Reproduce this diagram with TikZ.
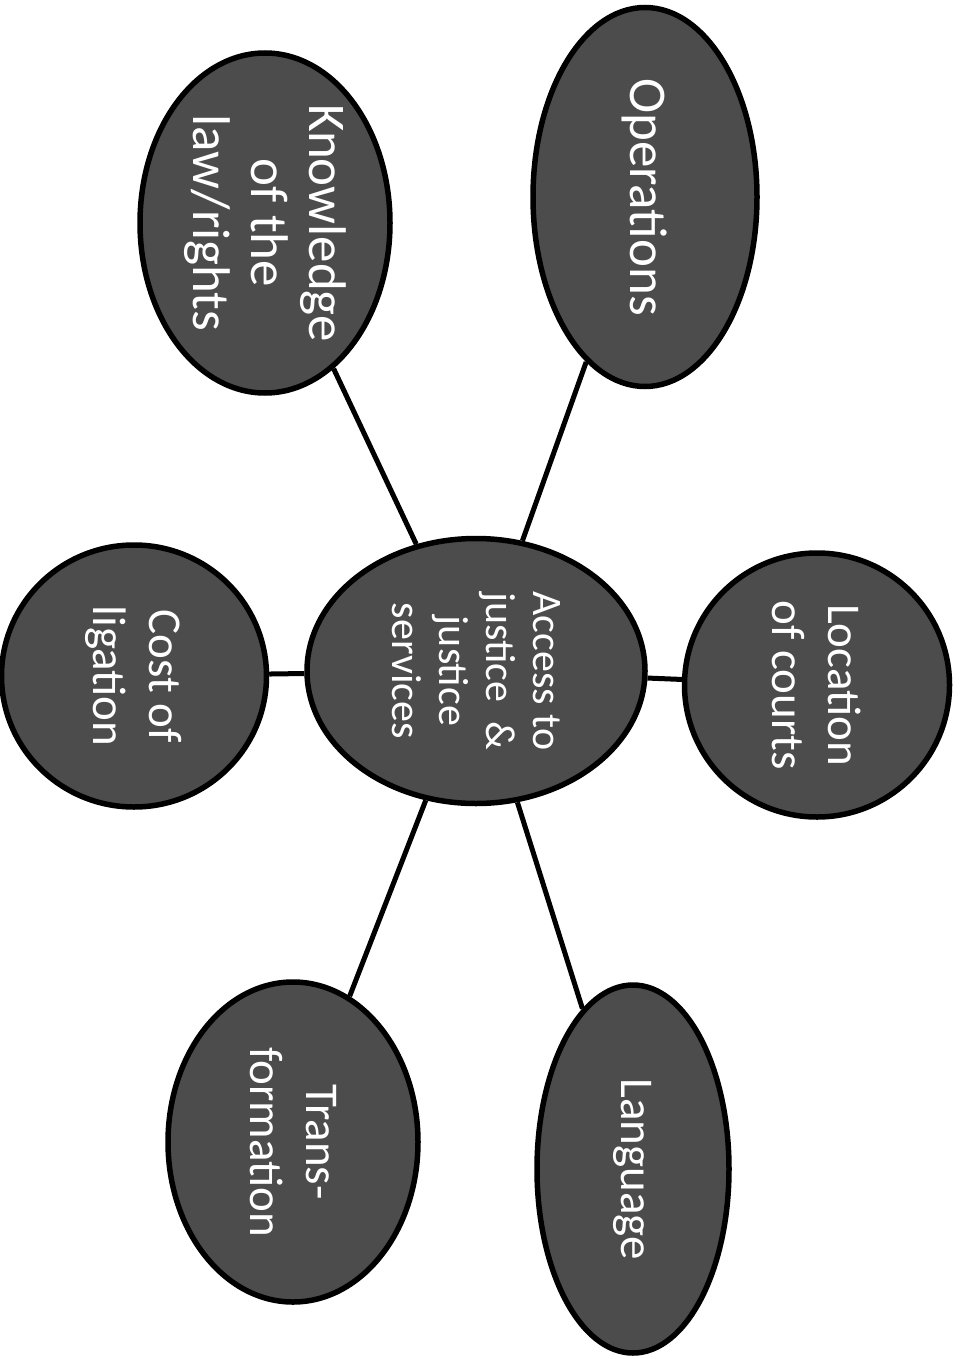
\documentclass[tikz,border=0pt]{standalone}
\usepackage{fontspec}
\setmainfont{Carlito}
\usetikzlibrary{shapes.geometric}
\begin{document}
\begin{tikzpicture}[x=1pt,y=-1pt,
  bub/.style={ellipse, draw=black, line width=5.5pt, fill=black!70, text=white,
    inner sep=0pt, align=center, rotate=-90,
    font=\fontsize{47}{56}\selectfont},
  big/.style={font=\fontsize{53}{58}\selectfont},
  conn/.style={draw=black, line width=5pt}]
\useasboundingbox (0,0) rectangle (963,1359);
\node[bub, minimum width=265pt, minimum height=338pt,
      font=\fontsize{42}{47}\selectfont] (cen) at (476,671)
  {Access to\\justice\hspace{0.45em}\&\\justice\\services};
\node[bub, big, minimum width=340pt, minimum height=250pt] (know) at (265,223)
  {Knowledge\\of the\\law/rights};
\node[bub, big, minimum width=379pt, minimum height=224pt] (oper) at (645,197)
  {Operations};
\node[bub, minimum width=264pt, minimum height=265pt] (loc) at (817,685)
  {Location\\of courts};
\node[bub, minimum width=262pt, minimum height=265pt] (cost) at (134,676)
  {Cost of\\ligation};
\node[bub, minimum width=320pt, minimum height=250pt] (trans) at (293,1142)
  {Trans-\\formation};
\node[bub, minimum width=368pt, minimum height=192pt] (lang) at (633,1169)
  {Language};
\draw[conn] (cen) -- (know);
\draw[conn] (cen) -- (oper);
\draw[conn] (cen) -- (loc);
\draw[conn] (cen) -- (cost);
\draw[conn] (cen) -- (trans);
\draw[conn] (cen) -- (lang);
\end{tikzpicture}
\end{document}
